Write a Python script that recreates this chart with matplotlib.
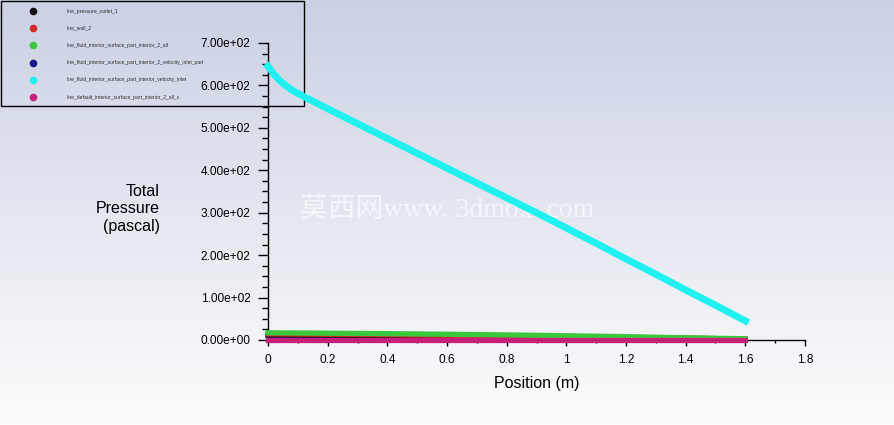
import numpy as np
import matplotlib
matplotlib.use('Agg')
import matplotlib.pyplot as plt
from matplotlib.patches import Rectangle
from matplotlib.ticker import MultipleLocator

# series (position in m, total pressure in pascal)
series_names = ['line_pressure_outlet_1',
                'line_wall_2',
                'line_fluid_interior_surface_part_interior_2_all',
                'line_fluid_interior_surface_part_interior_2_velocity_inlet_part',
                'line_fluid_interior_surface_part_interior_velocity_inlet',
                'line_default_interior_surface_part_interior_2_all_x']
series_colors = ['#101010', '#d42a2a', '#3cc83c', '#1a1a8c', '#1ff0f0', '#c8207a']

pos_black = [0.0, 0.4, 0.8, 1.2, 1.6]
tp_black = [12, 10, 8, 6, 3]
pos_red = [0.0, 0.4, 0.8, 1.2, 1.6]
tp_red = [14, 12, 9, 6, 3]
pos_green = [0.0, 0.2, 0.4, 0.6, 0.8, 1.0, 1.2, 1.4, 1.6]
tp_green = [17, 16, 15, 13.5, 12, 10, 8, 5, 3]
pos_blue = [0.0, 0.4, 0.8, 1.2, 1.6]
tp_blue = [10, 8, 6, 4, 2]
pos_cyan = [0.0, 0.02, 0.04, 0.06, 0.08, 0.1, 0.2, 0.3, 0.4, 0.5, 0.6, 0.7,
            0.8, 0.9, 1.0, 1.1, 1.2, 1.3, 1.4, 1.5, 1.6]
tp_cyan = [645, 626, 611, 599, 589, 581, 545, 510, 475, 440, 405, 370,
           335, 300, 264, 228, 191, 155, 118, 82, 45]
pos_magenta = [0.0, 0.4, 0.8, 1.2, 1.6]
tp_magenta = [1, 1, 1, 1, 1]

fig = plt.figure(figsize=(8.95, 4.25), dpi=100)

# background gradient + overlay stuff in pixel coords
bg = fig.add_axes([0, 0, 1, 1])
top = np.array([203, 209, 227]) / 255.0
bot = np.array([253, 253, 253]) / 255.0
t = np.linspace(0, 1, 425)[:, None]
grad = top * (1 - t) + bot * t
bg.imshow(grad[:, None, :].repeat(4, axis=1), aspect='auto', extent=[0, 895, 425, 0])
bg.set_xlim(0, 895)
bg.set_ylim(425, 0)
bg.axis('off')

# legend box like fluent
bg.add_patch(Rectangle((1, 1), 303, 105, fill=False, edgecolor='black', lw=1))
for i, (nm, c) in enumerate(zip(series_names, series_colors)):
    yy = 11 + i * 17.2
    bg.plot(33, yy, 'o', color=c, ms=4.5, mec=c)
    bg.text(67, yy, nm, fontsize=3.6, color='#303030', va='center', ha='left',
            family='Liberation Sans')

# watermark
bg.text(447, 210, '莫西网www. 3dmox. com', fontsize=20, color='white', alpha=0.65,
        ha='center', va='center', family=['Liberation Serif', 'Noto Sans CJK SC'],
        zorder=5)

ax = fig.add_axes([268 / 895, 85 / 425, 537 / 895, 297 / 425])
ax.patch.set_alpha(0)

ax.plot(pos_blue, tp_blue, color=series_colors[3], lw=3.5, clip_on=False, zorder=3)
ax.plot(pos_black, tp_black, color=series_colors[0], lw=3.5, clip_on=False, zorder=3)
ax.plot(pos_red, tp_red, color=series_colors[1], lw=3.5, clip_on=False, zorder=3)
ax.plot(pos_green, tp_green, color=series_colors[2], lw=3.8, clip_on=False, zorder=3)
ax.plot(pos_magenta, tp_magenta, color=series_colors[5], lw=3.8, clip_on=False, zorder=3)
ax.plot(pos_cyan, tp_cyan, color=series_colors[4], lw=5, clip_on=False, zorder=3)

ax.set_xlim(0, 1.8)
ax.set_ylim(0, 700)
for s in ['top', 'right']:
    ax.spines[s].set_visible(False)
ax.spines['left'].set_linewidth(1)
ax.spines['bottom'].set_linewidth(1)

ax.xaxis.set_major_locator(MultipleLocator(0.2))
ax.xaxis.set_minor_locator(MultipleLocator(0.1))
ax.yaxis.set_major_locator(MultipleLocator(100))
ax.yaxis.set_minor_locator(MultipleLocator(25))
ax.set_xticks(np.arange(0, 1.81, 0.2))
ax.set_xticklabels(['0', '0.2', '0.4', '0.6', '0.8', '1', '1.2', '1.4', '1.6', '1.8'])
ax.set_yticks(np.arange(0, 701, 100))
ax.set_yticklabels(['%.2e' % v for v in np.arange(0, 701, 100)])

ax.tick_params(axis='x', which='major', length=4, width=1, pad=6, labelsize=8.6)
ax.tick_params(axis='x', which='minor', length=2.5, width=1)
ax.tick_params(axis='y', which='major', length=7.5, width=1, pad=5, labelsize=8.6)
ax.tick_params(axis='y', which='minor', length=4.5, width=1)
for lab in ax.get_xticklabels() + ax.get_yticklabels():
    lab.set_family('Liberation Sans')

ax.set_xlabel('Position (m)', fontsize=11.5, family='Liberation Sans', labelpad=7)
fig.text(160 / 895, 1 - 209 / 425, 'Total\nPressure\n(pascal)', ha='right', va='center',
         fontsize=11.5, family='Liberation Sans', linespacing=1.18)

fig.savefig('out.png', dpi=100)
